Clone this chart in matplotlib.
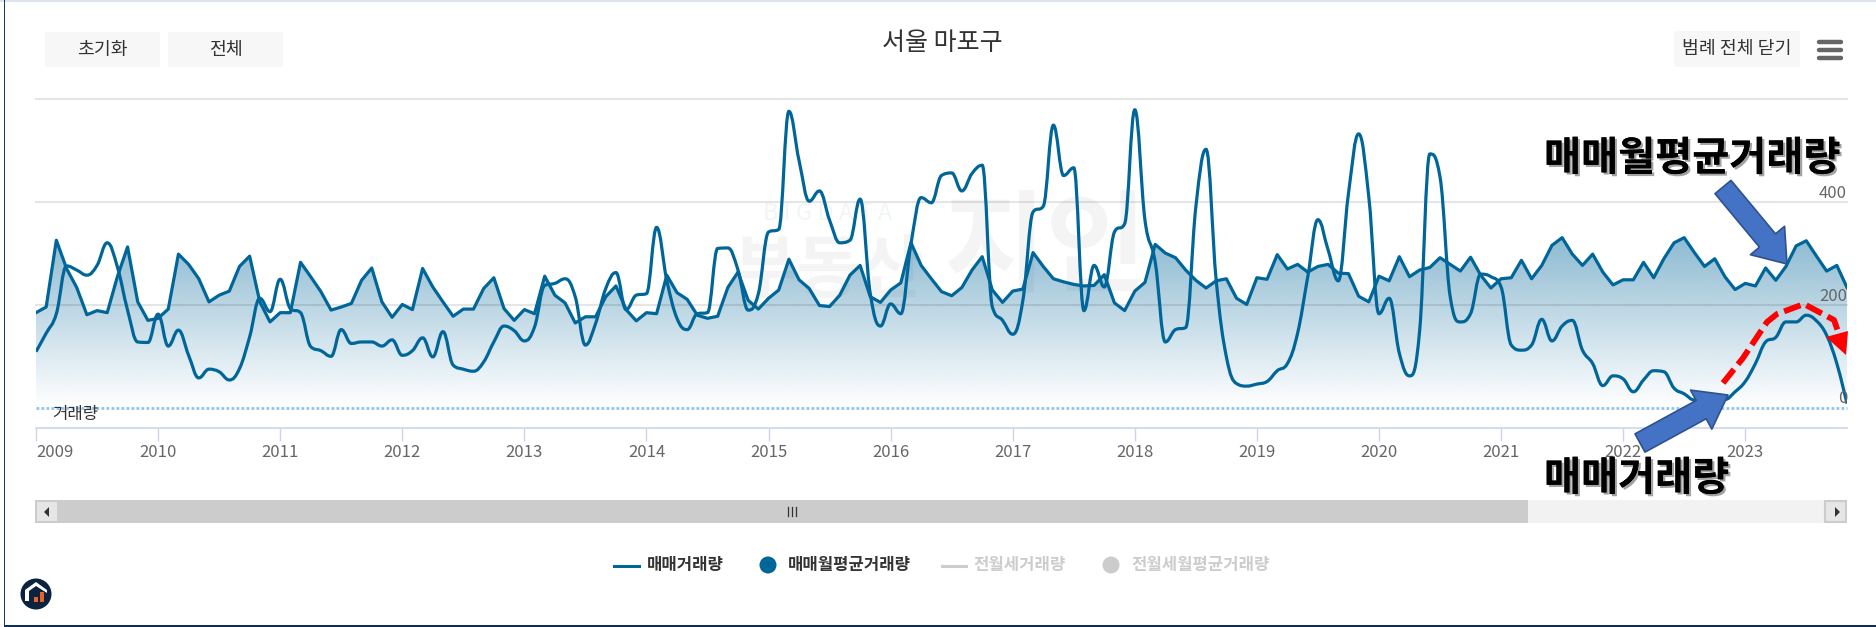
import numpy as np
import matplotlib
matplotlib.use('Agg')
import matplotlib.pyplot as plt
import matplotlib.patheffects as pe
from matplotlib.path import Path
from matplotlib.patches import Circle, FancyArrowPatch, PathPatch, Polygon, Rectangle

plt.rcParams['font.family'] = ['Noto Sans CJK KR', 'DejaVu Sans']

# monthly values, 2009-01 .. 2023-11
trade_avg = [
    185, 196, 326, 271, 234, 181, 189, 185, 255, 313, 206, 170,
    174, 192, 299, 279, 251, 206, 219, 227, 275, 295, 206, 167,
    185, 185, 283, 255, 226, 190, 196, 203, 248, 272, 206, 176,
    201, 191, 271, 235, 206, 178, 192, 192, 232, 253, 193, 170,
    191, 183, 256, 219, 204, 165, 177, 177, 216, 237, 191, 169,
    185, 183, 258, 224, 211, 180, 174, 178, 234, 264, 209, 192,
    213, 229, 289, 249, 232, 199, 197, 219, 258, 277, 216, 205,
    229, 243, 321, 277, 251, 226, 218, 234, 268, 294, 229, 205,
    227, 231, 302, 275, 251, 245, 240, 237, 238, 259, 204, 189,
    227, 244, 318, 301, 292, 268, 248, 233, 247, 251, 213, 201,
    253, 250, 298, 270, 279, 264, 275, 279, 262, 261, 217, 206,
    256, 247, 294, 255, 268, 273, 292, 279, 266, 293, 258, 233,
    251, 253, 287, 251, 277, 316, 331, 299, 277, 299, 264, 239,
    249, 249, 283, 253, 290, 321, 331, 302, 275, 290, 255, 230,
    242, 237, 272, 248, 275, 315, 325, 295, 266, 277, 234,
]
trade_count = [
    109, 145, 183, 276, 268, 258, 277, 321, 274, 190, 128, 127,
    182, 120, 151, 102, 58, 75, 70, 54, 76, 138, 213, 187,
    250, 193, 185, 119, 111, 100, 152, 125, 128, 128, 120, 132,
    102, 111, 136, 99, 148, 83, 75, 71, 89, 128, 159, 150,
    130, 157, 238, 242, 251, 216, 122, 164, 232, 263, 191, 219,
    222, 351, 248, 174, 152, 183, 185, 310, 311, 268, 190, 222,
    342, 347, 577, 481, 402, 422, 365, 321, 326, 406, 222, 159,
    202, 183, 319, 409, 399, 452, 457, 422, 456, 472, 196, 170,
    143, 209, 381, 392, 550, 452, 467, 189, 277, 235, 342, 358,
    580, 365, 284, 128, 152, 156, 391, 503, 248, 99, 47, 42,
    46, 51, 72, 86, 145, 255, 366, 307, 247, 417, 533, 410,
    183, 213, 106, 62, 151, 494, 449, 216, 167, 183, 260, 255,
    235, 122, 112, 122, 172, 130, 159, 170, 112, 86, 43, 62,
    56, 31, 54, 72, 70, 38, 27, 15, 16, 21, 16, 31,
    51, 86, 128, 137, 167, 167, 180, 169, 141, 86, 8,
]
years = list(range(2009, 2024))
y_ticks = [0, 200, 400, 600]
y_labels = ['0', '200', '400']
legend_names = ['매매거래량', '매매월평균거래량', '전월세거래량', '전월세월평균거래량']

W, H = 1876, 627
BLUE = '#006699'
GREY = '#333333'


def spline_path(x, y):
    # same smoothing as a highcharts spline
    verts = [(x[0], y[0])]
    codes = [Path.MOVETO]
    n = len(x)
    last = (x[0], y[0])
    for i in range(1, n):
        if i < n - 1:
            lx = (1.5 * x[i] + x[i - 1]) / 2.5
            ly = (1.5 * y[i] + y[i - 1]) / 2.5
            rx = (1.5 * x[i] + x[i + 1]) / 2.5
            ry = (1.5 * y[i] + y[i + 1]) / 2.5
            corr = (ry - ly) * (rx - x[i]) / (rx - lx) + y[i] - ry
            ly += corr
            ry += corr
            if ly > y[i - 1] and ly > y[i]:
                ly = max(y[i - 1], y[i])
                ry = 2 * y[i] - ly
            elif ly < y[i - 1] and ly < y[i]:
                ly = min(y[i - 1], y[i])
                ry = 2 * y[i] - ly
            if ry > y[i + 1] and ry > y[i]:
                ry = max(y[i + 1], y[i])
                ly = 2 * y[i] - ry
            elif ry < y[i + 1] and ry < y[i]:
                ry = min(y[i + 1], y[i])
                ly = 2 * y[i] - ry
        else:
            lx, ly = x[i], y[i]
            rx, ry = x[i], y[i]
        verts += [last, (lx, ly), (x[i], y[i])]
        codes += [Path.CURVE4] * 3
        last = (rx, ry)
    return Path(verts, codes)


fig = plt.figure(figsize=(W / 100, H / 100), dpi=100, facecolor='white')

# background layer, pixel coordinates
bg = fig.add_axes([0, 0, 1, 1], zorder=1)
bg.set_xlim(0, W)
bg.set_ylim(H, 0)
bg.axis('off')

# chart
ax = fig.add_axes([36 / W, (H - 407.7) / H, (1847 - 36) / W, (407.7 - 99.5) / H], zorder=2)
ax.patch.set_alpha(0)
x = 2009 + np.arange(len(trade_avg)) / 12
avg = np.array(trade_avg, dtype=float)
count = np.array(trade_count, dtype=float)

# area fill with vertical gradient
top = avg.max()
grad = np.zeros((256, 2, 4))
grad[..., :3] = matplotlib.colors.to_rgb(BLUE)
grad[..., 3] = np.linspace(0.45, 0.0, 256)[:, None]
im = ax.imshow(grad, extent=(x[0], x[-1], 0, top), aspect='auto', zorder=1, interpolation='bilinear')
poly = Polygon(np.column_stack([np.r_[x[0], x, x[-1]], np.r_[0, avg, 0]]), closed=True, transform=ax.transData,
               facecolor='none', edgecolor='none')
ax.add_patch(poly)
im.set_clip_path(poly)

ax.plot(x, avg, color=BLUE, lw=2.3, zorder=4, solid_joinstyle='round')
ax.add_patch(PathPatch(spline_path(x, count), facecolor='none', edgecolor=BLUE, lw=2.3, zorder=5))

ax.set_xlim(x[0], x[-1])
ax.set_ylim(0, 600)
ax.set_yticks(y_ticks[:-1])
ax.set_yticklabels([])
ax.tick_params(axis='y', length=0)
for v in y_ticks[1:]:
    ax.axhline(v, color=(0, 0, 0, 0.1), lw=1.5, zorder=3, clip_on=False)
ax.axhline(0, color='#8fc4ee', lw=2, ls=(0, (1, 0.8)), zorder=3, clip_on=False)
for s in ['top', 'left', 'right']:
    ax.spines[s].set_visible(False)
ax.spines['bottom'].set_position(('outward', 14.5))
ax.spines['bottom'].set_color('#ccd6eb')
ax.spines['bottom'].set_linewidth(1.2)
ax.set_xticks(years)
ax.set_xticklabels([str(v) for v in years], color='#666666', fontsize=12)
ax.tick_params(axis='x', color='#ccd6eb', length=9.5, width=1, pad=2)
ax.get_xticklabels()[0].set_ha('left')
for v, lab in zip(y_ticks, y_labels):
    ax.annotate(lab, (1, v), xycoords=ax.get_yaxis_transform(), xytext=(0, 0.3), textcoords='offset points',
                ha='right', va='bottom', color='#666666', fontsize=12, zorder=6)

# everything else on a pixel overlay
ov = fig.add_axes([0, 0, 1, 1], zorder=3)
ov.set_xlim(0, W)
ov.set_ylim(H, 0)
ov.axis('off')
ov.patch.set_alpha(0)

# watermark
bg.text(828, 213, 'B I G D A T A', ha='center', va='center', fontsize=17, color='#f1f5f5')
bg.text(828, 272, '부동산', ha='center', va='center', fontsize=50, color='#f4f4f4', fontweight='bold')
bg.text(1046, 250, '지인', ha='center', va='center', fontsize=80, color='#f4f4f4', fontweight='bold')

# frame
bg.add_patch(Rectangle((0, 0), W, 2, color='#dde3f0', lw=0))
bg.add_patch(Rectangle((4, 0), 1.2, H, color='#1c3a63', lw=0))
bg.add_patch(Rectangle((4, H - 2), W, 2, color='#0f2f57', lw=0))

# buttons and title
for (x0, x1, y0, y1, label) in [(45, 160, 32, 67, '초기화'), (168, 283, 32, 67, '전체'),
                                (1674, 1800, 31, 67, '범례 전체 닫기')]:
    ov.add_patch(Rectangle((x0, y0), x1 - x0, y1 - y0, color='#f7f7f7', lw=0))
    ov.text((x0 + x1) / 2, (y0 + y1) / 2, label, ha='center', va='center', fontsize=13.2, color=GREY,
            fontweight='medium')
ov.text(942, 43, '서울 마포구', ha='center', va='center', fontsize=18, color=GREY)
for yb in [42, 50, 58]:
    ov.plot([1819, 1841], [yb, yb], color='#666666', lw=3.2, solid_capstyle='round')
ov.text(52, 415, '거래량', ha='left', va='center', fontsize=12, color=GREY)

# scrollbar
ov.add_patch(Rectangle((35, 500), 1812, 23, color='#f2f2f2', lw=0))
ov.add_patch(Rectangle((35, 500), 1493, 23, color='#cccccc', lw=0))
ov.add_patch(Rectangle((37, 502), 20, 19, color='#e6e6e6', lw=0))
ov.add_patch(Rectangle((1825, 501), 21, 21, facecolor='#e6e6e6', edgecolor='#cccccc', lw=1.5))
ov.add_patch(Polygon([(49, 507), (49, 517), (44, 512)], color='#333333', lw=0))
ov.add_patch(Polygon([(1835, 507), (1835, 517), (1840, 512)], color='#333333', lw=0))
for xb in [788, 792, 796]:
    ov.plot([xb, xb], [507, 516], color='#333333', lw=0.9)

# legend
ov.plot([614, 639], [566, 566], color=BLUE, lw=2.2)
ov.add_patch(Circle((768, 565), 8.5, color=BLUE, lw=0))
ov.plot([942, 966], [566, 566], color='#cccccc', lw=2.2)
ov.add_patch(Circle((1111, 565), 8.5, color='#cccccc', lw=0))
for xt, name, col in zip([647, 788, 973, 1131], legend_names, [GREY, GREY, '#cccccc', '#cccccc']):
    ov.text(xt, 565, name, ha='left', va='center', fontsize=12, fontweight='bold', color=col)

# logo
ov.add_patch(Circle((36, 594), 15.5, color='#0c2340', lw=0))
ov.add_patch(Polygon([(25, 598), (25, 590), (36, 582), (47, 590), (47, 593), (36, 586), (29, 591), (29, 601), (25, 601)],
                     color='white', lw=0))
ov.add_patch(Rectangle((34, 597), 4, 5, color='#e8622a', lw=0))
ov.add_patch(Rectangle((40, 592), 4, 10, color='#e8622a', lw=0))

# hand-drawn callouts
for p0, p1 in [((1723, 187), (1787, 264)), ((1640, 443), (1728, 395))]:
    ov.add_patch(FancyArrowPatch(p0, p1, arrowstyle='simple,head_length=22,head_width=32,tail_width=15',
                                 mutation_scale=1, shrinkA=0, shrinkB=0, facecolor='#4472c4',
                                 edgecolor='#2f528f', lw=1.2, zorder=6))
shadow = [pe.withSimplePatchShadow(offset=(1.6, -1.6), shadow_rgbFace='#999999', alpha=0.9), pe.Normal()]
ov.text(1544, 159, '매매월평균거래량', ha='left', va='center', fontsize=29, fontweight='bold', color='black',
        path_effects=shadow, zorder=7)
ov.text(1544, 479, '매매거래량', ha='left', va='center', fontsize=29, fontweight='bold', color='black',
        path_effects=shadow, zorder=7)
ov.plot([1723, 1743, 1767, 1777, 1804, 1834, 1840], [383, 358, 322, 314, 304, 320, 337], color='#ff0000', lw=4.2,
        ls=(0, (3, 1.1)), zorder=6, solid_joinstyle='round')
ov.add_patch(Polygon([(1826, 337), (1848, 331), (1846, 355)], color='#ff0000', lw=0, zorder=6))

fig.savefig('out.png', dpi=100, facecolor='white')
